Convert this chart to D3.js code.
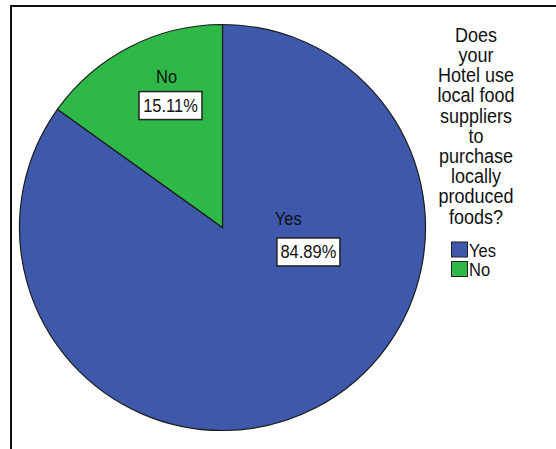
<!DOCTYPE html>
<html>
<head>
<meta charset="utf-8">
<script src="https://cdn.jsdelivr.net/npm/d3@7"></script>
<style>
    body { margin: 0; background: #fff; }
    svg { display: block; font-family: "Liberation Sans", Arial, sans-serif; }
</style>
</head>
<body>
<svg id="chart" width="556" height="449"></svg>
<script>
const categories = ["Yes", "No"];
const percents = [84.89, 15.11];
const sliceColors = ["#3e58ac", "#2eb848"];
const titleLines = ["Does", "your", "Hotel use", "local food", "suppliers", "to",
    "purchase", "locally", "produced", "foods?"];

// where SPSS left the labels: angle (deg, clockwise from top) and radius as share of pie radius
const labelSpots = [
    {valA: 105.9, valR: 0.44, catA: 81.8, catR: 0.327},
    {valA: 336.9, valR: 0.653, catA: 339.6, catR: 0.791}
];

const svg = d3.select("#chart")

const cx = 222.5, cy = 227.5, radius = 203

// frame (left + top only, rest is cropped)
svg.append("path")
    .attr("d", "M 11 449 L 11 6 L 556 6")
    .attr("fill", "none")
    .attr("stroke", "#111")
    .attr("stroke-width", 2)

const pie = d3.pie().sort(null).value(d => d)
const arcs = pie(percents)
const arc = d3.arc().innerRadius(0).outerRadius(radius)

const g = svg.append("g").attr("transform", `translate(${cx},${cy})`)

g.selectAll("path.slice")
    .data(arcs)
    .enter().append("path")
    .attr("class", "slice")
    .attr("d", arc)
    .attr("fill", (d, i) => sliceColors[i])
    .attr("stroke", "#1c1c1c")
    .attr("stroke-width", 1.2)

function polar(aDeg, r) {
    const a = aDeg * Math.PI / 180
    return [Math.sin(a) * r * radius, -Math.cos(a) * r * radius]
}

function stretchedText(parent, x, y, txt, size, anchor) {
    return parent.append("text")
        .attr("transform", `translate(${x},${y}) scale(1,1.1)`)
        .attr("text-anchor", anchor)
        .attr("font-size", size)
        .attr("fill", "#111")
        .text(txt)
}

arcs.forEach((d, i) => {
    const spot = labelSpots[i]
    const [kx, ky] = polar(spot.catA, spot.catR)
    stretchedText(g, kx, ky + 6.5, categories[i], 16.5, "middle")

    const [vx, vy] = polar(spot.valA, spot.valR)
    g.append("rect")
        .attr("x", vx - 31.5)
        .attr("y", vy - 14)
        .attr("width", 63)
        .attr("height", 28)
        .attr("fill", "#fff")
        .attr("stroke", "#222")
        .attr("stroke-width", 1.5)
    stretchedText(g, vx, vy + 6.5, percents[i].toFixed(2) + "%", 16.5, "middle")
})

// legend
const legend = svg.append("g")

titleLines.forEach((line, i) => {
    stretchedText(legend, 476, 41.7 + i * 20.2, line, 18, "middle")
})

categories.forEach((c, i) => {
    const y = 242 + i * 19.5
    legend.append("rect")
        .attr("x", 451.5)
        .attr("y", y)
        .attr("width", 16)
        .attr("height", 15)
        .attr("fill", sliceColors[i])
        .attr("stroke", "#222")
        .attr("stroke-width", 1)
    stretchedText(legend, 469, y + 14.5, c, 16.5, "start")
})
</script>
</body>
</html>
